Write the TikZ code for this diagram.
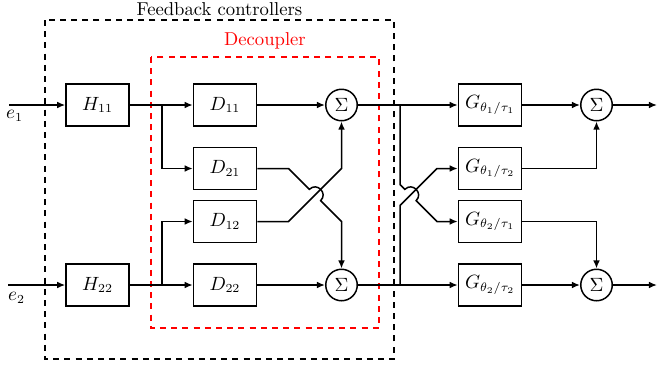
\documentclass[tikz,border=0pt]{standalone}
\usetikzlibrary{arrows.meta,calc}
\begin{document}
\begin{tikzpicture}[x=0.5714pt,y=-0.5714pt,
  every node/.style={font=\fontsize{10.65}{13}\selectfont},
  blk/.style={draw,line width=0.85pt,minimum width=36pt,minimum height=24pt,inner sep=0pt},
  sumn/.style={draw,circle,line width=0.85pt,minimum size=18pt,inner sep=0pt},
  wire/.style={line width=0.85pt},
  arr/.style={wire,-{Latex[length=4.6pt,width=3.8pt]}},
  frame/.style={line width=0.75pt,dash pattern=on 3.4pt off 3pt}]
\useasboundingbox (0,0) rectangle (658,368);
% frames
\draw[frame] (45,20) rectangle (394,359);
\node (fbl) at (219.5,9) {Feedback controllers};
\draw[frame,red] (151,57) rectangle (379,328);
\node[red] (dcl) at (265,41) {Decoupler};
% blocks
\node[blk] (H11) at (97.5,105) {$H_{11}$};
\node[blk] (H22) at (97.5,285) {$H_{22}$};
\node[blk] (D11) at (225,105) {$D_{11}$};
\node[blk] (D21) at (225,168.5) {$D_{21}$};
\node[blk] (D12) at (225,221.5) {$D_{12}$};
\node[blk] (D22) at (225,285) {$D_{22}$};
\node[sumn] (S1) at (341.5,105) {$\Sigma$};
\node[sumn] (S2) at (341.5,285) {$\Sigma$};
\node[blk] (G11) at (490,105) {$G_{\theta_1/\tau_1}$};
\node[blk] (G12) at (490,168.5) {$G_{\theta_1/\tau_2}$};
\node[blk] (G21) at (490,221.5) {$G_{\theta_2/\tau_1}$};
\node[blk] (G22) at (490,285) {$G_{\theta_2/\tau_2}$};
\node[sumn] (S3) at (596.5,105) {$\Sigma$};
\node[sumn] (S4) at (596.5,285) {$\Sigma$};
% inputs
\coordinate (in1) at (9,105);
\coordinate (in2) at (8,285);
\node (e1) at (14.5,116) {$e_1$};
\node (e2) at (16.5,298) {$e_2$};
\draw[arr] (in1) -- (H11.west);
\draw[arr] (in2) -- (H22.west);
% to decoupler
\coordinate (b1) at (162,105);
\coordinate (b2) at (162,285);
\draw[arr] (H11.east) -- (D11.west);
\draw[arr] (b1) |- (D21.west);
\draw[arr] (H22.east) -- (D22.west);
\draw[arr] (b2) |- (D12.west);
\draw[arr] (D11.east) -- (S1.west);
\draw[arr] (D22.east) -- (S2.west);
% decoupler crossing
\coordinate (cL) at (315,195);
\draw[arr] (D12.east) -- (288.5,221.5) -- (341.5,168.5) -- (S1.south);
\draw[arr] (D21.east) -- (288.5,168.5) -- ($(cL)+(-5.66,-5.66)$)
   .. controls ($(cL)+(1.88,-13.2)$) and ($(cL)+(13.2,-1.88)$) .. ($(cL)+(5.66,5.66)$)
   -- (341.5,221.5) -- (S2.north);
% plant crossing
\coordinate (j1) at (400,105);
\coordinate (j2) at (400,285);
\coordinate (cR) at (410.5,195);
\draw[arr] (S1.east) -- (G11.west);
\draw[arr] (S2.east) -- (G22.west);
\draw[arr] (j2) -- (400,205.5) -- (437,168.5) -- (G12.west);
\draw[arr] (j1) -- (400,184.5) -- ($(cR)+(-5.66,-5.66)$)
   .. controls ($(cR)+(1.88,-13.2)$) and ($(cR)+(13.2,-1.88)$) .. ($(cR)+(5.66,5.66)$)
   -- (437,221.5) -- (G21.west);
% output sums
\coordinate (o1) at (657,105);
\coordinate (o2) at (657,285);
\draw[arr] (G11.east) -- (S3.west);
\draw[arr] (G12.east) -| (S3.south);
\draw[arr] (G22.east) -- (S4.west);
\draw[arr] (G21.east) -| (S4.north);
\draw[arr] (S3.east) -- (o1);
\draw[arr] (S4.east) -- (o2);
\end{tikzpicture}
\end{document}
